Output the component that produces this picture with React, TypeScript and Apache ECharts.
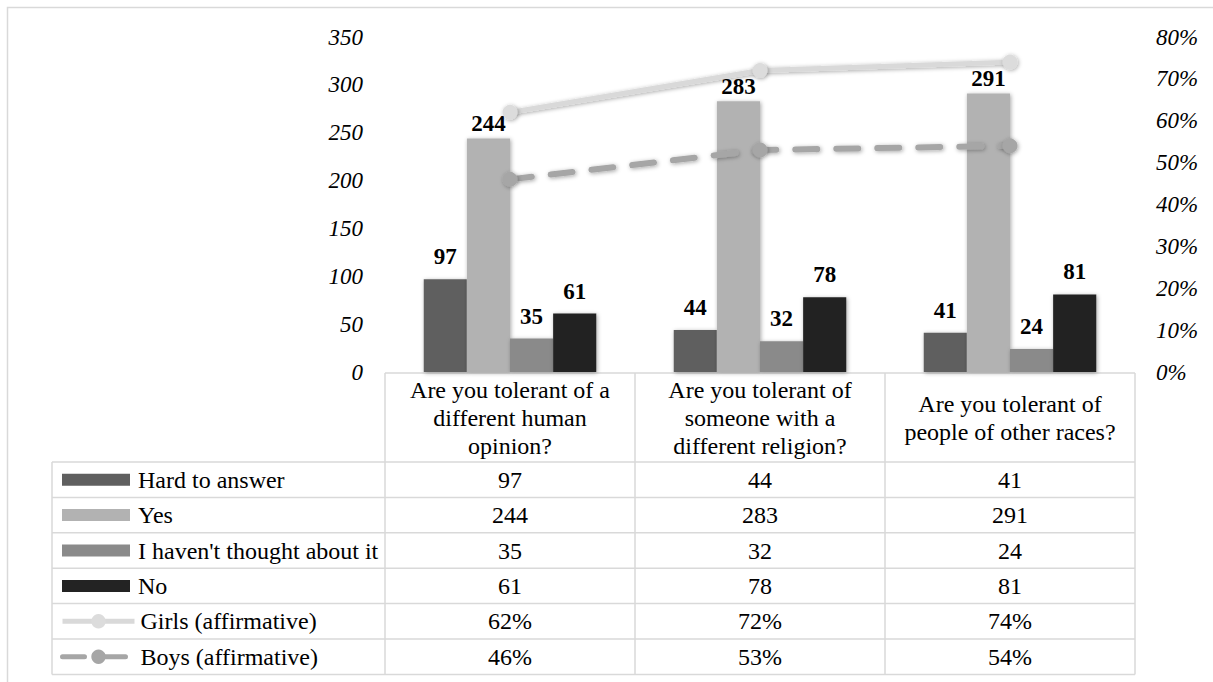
import React, { useEffect, useRef } from "react";
import * as echarts from "echarts";

const categories = [
  "Are you tolerant of a\ndifferent human\nopinion?",
  "Are you tolerant of\nsomeone with a\ndifferent religion?",
  "Are you tolerant of\npeople of other races?",
];
const seriesNames = [
  "Hard to answer",
  "Yes",
  "I haven't thought about it",
  "No",
  "Girls (affirmative)",
  "Boys (affirmative)",
];
const hardToAnswer = [97, 44, 41];
const yes = [244, 283, 291];
const notThought = [35, 32, 24];
const no = [61, 78, 81];
const girls = [62, 72, 74];
const boys = [46, 53, 54];
const leftAxis = { min: 0, max: 350, interval: 50 };
const rightAxis = { min: 0, max: 80, interval: 10 };

const FONT = "Liberation Serif";
const FS = 23;
const TFS = 24;

export default function App() {
  const ref = useRef<HTMLDivElement>(null);
  useEffect(() => {
    if (!ref.current) return;
    const chart = echarts.init(ref.current, undefined, { renderer: "svg" });

    const W = 1213;
    const gridLeft = 385;
    const gridRight = 78;
    const gridTop = 37;
    const axisY = 372;
    const colW = (W - gridLeft - gridRight) / categories.length;
    const tableRight = gridLeft + colW * categories.length;
    const headerTop = 373;
    const headerBottom = 462;
    const rowH = 35.4;
    const legendLeft = 52;
    const lineColor = "#d9d9d9";

    const barSeriesData = [hardToAnswer, yes, notThought, no];
    const lineSeriesData = [girls, boys];
    const barColors = ["#5f5f5f", "#b2b2b2", "#8a8a8a", "#232323"];
    const rows = [...barSeriesData, ...lineSeriesData];
    const nRows = rows.length;
    const tableBottom = headerBottom + rowH * nRows;

    const graphics: any[] = [];
    graphics.push({
      type: "rect",
      shape: { x: 7.5, y: 7.5, width: 1250, height: 720 },
      style: { fill: "none", stroke: lineColor, lineWidth: 1.5 },
      silent: true,
    });
    graphics.push({
      type: "line",
      shape: { x1: gridLeft, y1: headerTop, x2: tableRight, y2: headerTop },
      style: { stroke: lineColor, lineWidth: 1.5 },
    });
    for (let i = 0; i <= nRows; i++) {
      const y = headerBottom + rowH * i;
      graphics.push({
        type: "line",
        shape: { x1: legendLeft, y1: y, x2: tableRight, y2: y },
        style: { stroke: lineColor, lineWidth: 1.5 },
      });
    }
    graphics.push({
      type: "line",
      shape: { x1: legendLeft, y1: headerBottom, x2: legendLeft, y2: tableBottom },
      style: { stroke: lineColor, lineWidth: 1.5 },
    });
    for (let j = 0; j <= categories.length; j++) {
      const x = gridLeft + colW * j;
      graphics.push({
        type: "line",
        shape: { x1: x, y1: headerTop, x2: x, y2: tableBottom },
        style: { stroke: lineColor, lineWidth: 1.5 },
      });
    }
    rows.forEach((vals, i) => {
      vals.forEach((v, j) => {
        graphics.push({
          type: "text",
          x: gridLeft + colW * (j + 0.5),
          y: headerBottom + rowH * (i + 0.5),
          style: {
            text: i >= 4 ? v + "%" : String(v),
            fontFamily: FONT,
            fontSize: TFS,
            fill: "#000",
            align: "center",
            verticalAlign: "middle",
          },
        });
      });
    });

    const shadow = {
      shadowBlur: 4,
      shadowColor: "rgba(0,0,0,0.35)",
      shadowOffsetX: 1,
      shadowOffsetY: 1,
    };

    const series: any[] = barSeriesData.map((d, i) => ({
      name: seriesNames[i],
      type: "bar",
      data: d,
      yAxisIndex: 0,
      barGap: "0%",
      barCategoryGap: "31%",
      itemStyle: { color: barColors[i], ...shadow },
      label: {
        show: true,
        position: "top",
        distance: i === 1 ? 3 : 11,
        fontFamily: FONT,
        fontSize: FS,
        fontWeight: "bold",
        color: "#000",
      },
      z: 2,
    }));
    series.push({
      name: seriesNames[4],
      type: "line",
      data: girls,
      yAxisIndex: 1,
      symbol: "circle",
      symbolSize: 15,
      lineStyle: { color: "#d9d9d9", width: 5, ...shadow },
      itemStyle: { color: "#dcdcdc", ...shadow },
      z: 5,
    });
    series.push({
      name: seriesNames[5],
      type: "line",
      data: boys,
      yAxisIndex: 1,
      symbol: "circle",
      symbolSize: 15,
      lineStyle: { color: "#a6a6a6", width: 6, type: [22, 19], cap: "round", ...shadow },
      itemStyle: { color: "#a6a6a6", ...shadow },
      z: 5,
    });

    const legends = seriesNames.map((n, i) => {
      const isBar = i < 4;
      const ih = isBar ? 12 : 18;
      return {
        show: true,
        orient: "horizontal",
        left: isBar ? 62 : 60,
        top: headerBottom + rowH * (i + 0.5) - 13,
        padding: 0,
        itemWidth: isBar ? 68 : 72,
        itemHeight: ih,
        itemGap: 0,
        selectedMode: false,
        data: [isBar ? { name: n, icon: "rect" } : { name: n }],
        lineStyle: isBar ? undefined : { width: 5 },
        textStyle: {
          fontFamily: FONT,
          fontSize: TFS,
          color: "#000",
          lineHeight: 26,
          padding: isBar ? [0, 0, 0, 3] : [0, 0, 0, 1],
        },
      };
    });

    chart.setOption({
      animation: false,
      backgroundColor: "#fff",
      textStyle: { fontFamily: FONT },
      grid: {
        left: gridLeft,
        right: gridRight,
        top: gridTop,
        height: axisY - gridTop,
        containLabel: false,
      },
      legend: legends,
      xAxis: {
        type: "category",
        data: categories,
        axisLine: { show: false },
        axisTick: { show: false },
        axisLabel: {
          interval: 0,
          margin: (headerTop + headerBottom) / 2 - axisY,
          verticalAlign: "middle",
          fontFamily: FONT,
          fontSize: TFS,
          lineHeight: 28,
          color: "#000",
          align: "center",
        },
      },
      yAxis: [
        {
          type: "value",
          min: leftAxis.min,
          max: leftAxis.max,
          interval: leftAxis.interval,
          axisLine: { show: false },
          axisTick: { show: false },
          splitLine: { show: false },
          axisLabel: {
            margin: 22,
            fontFamily: FONT,
            fontSize: FS,
            fontStyle: "italic",
            color: "#000",
          },
        },
        {
          type: "value",
          min: rightAxis.min,
          max: rightAxis.max,
          interval: rightAxis.interval,
          position: "right",
          axisLine: { show: false },
          axisTick: { show: false },
          splitLine: { show: false },
          axisLabel: {
            margin: 21,
            formatter: "{value}%",
            fontFamily: FONT,
            fontSize: FS,
            fontStyle: "italic",
            color: "#000",
          },
        },
      ],
      graphic: graphics,
      series,
    });

    return () => chart.dispose();
  }, []);
  return (
    <div
      ref={ref}
      style={{ position: "fixed", left: 0, top: 0, width: 1213, height: 682, background: "#fff" }}
    />
  );
}
